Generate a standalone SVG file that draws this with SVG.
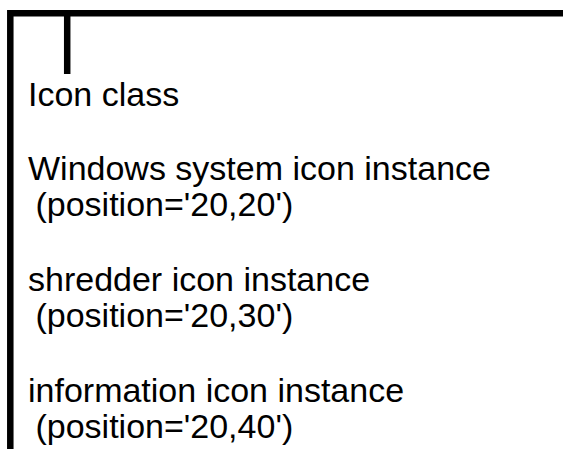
<svg xmlns="http://www.w3.org/2000/svg" width="563" height="449" viewBox="0 0 563 449">
<style>
.t{font-family:"Liberation Sans",Arial,sans-serif;font-size:34px;fill:#000;white-space:pre}
.ln{fill:none;stroke:#000;stroke-width:6.5;stroke-linejoin:miter;stroke-linecap:butt}
</style>
<rect width="563" height="449" fill="#fff"/>
<g id="connectors">
<path class="ln" d="M10.3,449 V13.3 H563"/>
<path class="ln" d="M67.2,13.3 V74"/>
</g>
<g id="icon-class"><text class="t" x="28" y="106">Icon class</text></g>
<g id="windows-system-icon"><text class="t" x="28" y="180">Windows system icon instance</text><text class="t" x="26" y="216"> (position='20,20')</text></g>
<g id="shredder-icon"><text class="t" x="28" y="291">shredder icon instance</text><text class="t" x="26" y="327"> (position='20,30')</text></g>
<g id="information-icon"><text class="t" x="28" y="402">information icon instance</text><text class="t" x="26" y="438"> (position='20,40')</text></g>
</svg>
